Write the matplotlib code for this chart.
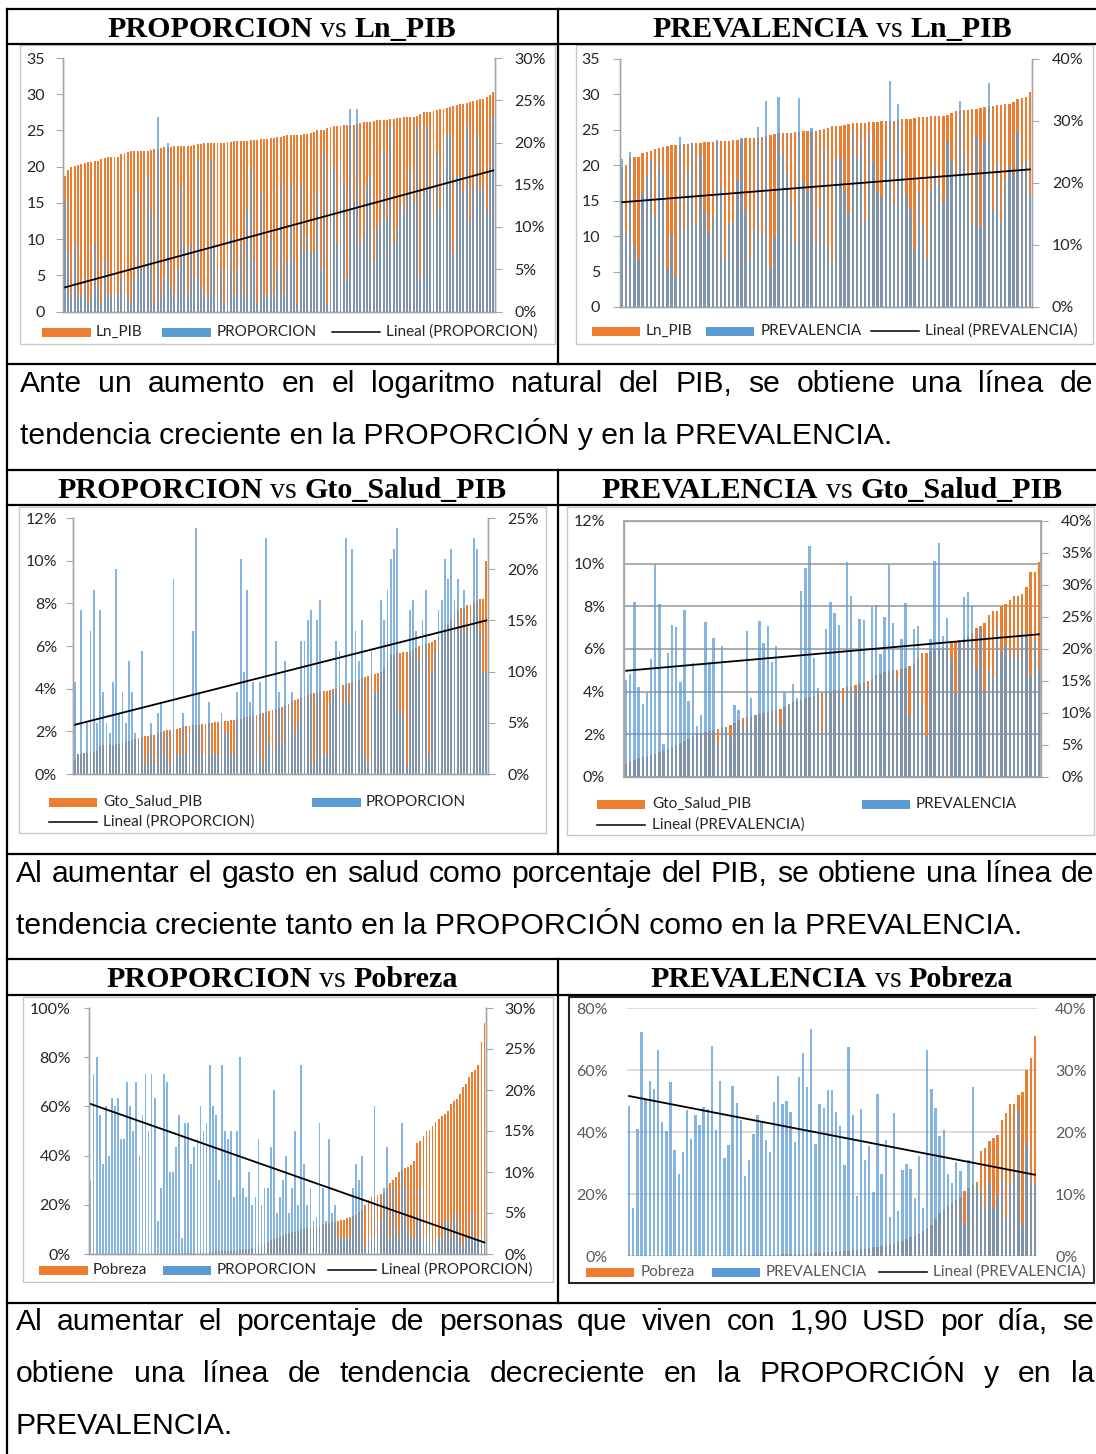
import numpy as np
import matplotlib
matplotlib.use('Agg')
import matplotlib.pyplot as plt
from matplotlib.patches import Rectangle

# ---------------- datos ----------------
# PROPORCION vs Ln_PIB  (Ln_PIB eje izq., PROPORCION en % eje der.)
ln_pib_a = [18.7, 19.6, 20.0, 20.1, 20.2, 20.4, 20.5, 20.6, 20.7, 20.8,
            20.8, 21.0, 21.2, 21.3, 21.3, 21.3, 21.4, 21.7, 21.9, 22.0,
            22.1, 22.1, 22.1, 22.2, 22.2, 22.2, 22.3, 22.4, 22.5, 22.6,
            22.7, 22.7, 22.7, 22.8, 22.8, 22.8, 22.8, 22.9, 22.9, 23.0,
            23.1, 23.1, 23.2, 23.2, 23.2, 23.2, 23.3, 23.3, 23.3, 23.4,
            23.4, 23.5, 23.6, 23.6, 23.6, 23.6, 23.7, 23.7, 23.7, 23.8,
            23.8, 23.8, 23.9, 24.0, 24.1, 24.1, 24.2, 24.3, 24.3, 24.4,
            24.4, 24.4, 24.5, 24.5, 24.6, 24.8, 25.0, 25.0, 25.1, 25.3,
            25.5, 25.6, 25.6, 25.6, 25.7, 25.7, 25.8, 25.8, 25.9, 26.0,
            26.1, 26.1, 26.2, 26.3, 26.4, 26.4, 26.5, 26.5, 26.6, 26.6,
            26.7, 26.7, 26.8, 26.8, 26.9, 26.9, 27.0, 27.3, 27.5, 27.6,
            27.6, 27.7, 27.8, 27.9, 28.0, 28.1, 28.2, 28.4, 28.5, 28.6,
            28.7, 28.8, 28.9, 29.0, 29.2, 29.3, 29.4, 29.6, 29.9, 30.3]
proporcion_a = [13.1, 7, 2, 8, 2, 2, 4, 1, 2, 8,
                3, 1, 6, 2, 2, 2, 2, 4, 2, 2,
                1, 4, 14, 5, 5, 16, 12, 1, 23, 2,
                4, 20, 3, 2, 5, 15, 8, 2, 8, 4,
                18, 3, 2, 2, 18, 8, 2, 5, 1, 5,
                9, 2, 5, 8, 2, 12, 17, 6, 1, 14,
                2, 2, 9, 2, 5, 15, 2, 6, 15, 6,
                1, 15, 7, 9, 7, 7, 14, 5, 19, 1,
                17, 17, 8, 18, 15, 4, 24, 13, 24, 8,
                9, 15, 16, 6, 10, 11, 19, 11, 22, 8,
                10, 13, 12, 14, 17, 13, 22, 4, 14, 22,
                15, 11, 19, 12, 17, 21, 21, 7, 16, 16,
                14, 22, 11, 15, 21, 14, 15, 12, 17, 23]
tend_a = [2.85, 16.7]

# PREVALENCIA vs Ln_PIB
ln_pib_b = [19.8, 20.1, 21.0, 21.2, 21.2, 21.7, 21.9, 22.0, 22.3, 22.5,
            22.6, 22.7, 22.8, 22.8, 22.8, 23.0, 23.0, 23.1, 23.1, 23.2,
            23.3, 23.3, 23.3, 23.4, 23.4, 23.4, 23.4, 23.5, 23.6, 23.7,
            23.8, 23.8, 23.8, 23.9, 24.0, 24.2, 24.3, 24.4, 24.5, 24.6,
            24.6, 24.6, 24.7, 24.7, 24.8, 24.8, 24.8, 24.9, 25.0, 25.1,
            25.2, 25.5, 25.6, 25.6, 25.7, 25.8, 25.9, 25.9, 26.0, 26.0,
            26.1, 26.1, 26.1, 26.2, 26.2, 26.3, 26.3, 26.4, 26.5, 26.5,
            26.6, 26.7, 26.8, 26.8, 26.8, 26.9, 26.9, 26.9, 27.0, 27.1,
            27.4, 27.6, 27.7, 27.8, 27.8, 27.9, 28.0, 28.1, 28.2, 28.3,
            28.4, 28.5, 28.5, 28.6, 28.6, 28.9, 29.3, 29.5, 29.7, 30.3]
prevalencia_b = [23.8, 11.9, 25.0, 9.9, 7.8, 18.3, 20.9, 23.5, 14.9, 23.2,
                 21.6, 6.3, 11.7, 4.9, 27.5, 12.4, 21.7, 26.5, 13.2, 24.6,
                 15.5, 11.9, 14.7, 27.0, 19.4, 7.6, 13.3, 13.8, 20.5, 27.3,
                 15.6, 7.9, 12.5, 29.1, 11.4, 33.3, 6.4, 11.4, 33.8, 24.6,
                 22.0, 17.0, 10.1, 33.7, 20.1, 18.7, 28.9, 10.3, 16.1, 25.5,
                 9.8, 7.3, 23.7, 24.1, 18.7, 15.2, 28.3, 24.2, 26.8, 14.0,
                 28.1, 23.2, 18.5, 17.8, 23.8, 36.5, 16.8, 32.7, 25.1, 18.0,
                 15.8, 9.4, 18.4, 13.1, 7.6, 18.8, 22.8, 19.8, 16.7, 26.8,
                 23.5, 21.6, 33.3, 24.7, 21.1, 13.3, 27.4, 12.9, 26.7, 36.1,
                 15.6, 23.3, 13.9, 20.3, 22.7, 21.6, 28.3, 22.8, 23.6, 18.1]
tend_b = [16.9, 22.2]

# PROPORCION vs Gto_Salud_PIB (ambas en %)
gto_salud_c = [0.65, 0.95, 0.95, 1.0, 1.0, 1.05, 1.05, 1.1, 1.3, 1.35,
               1.35, 1.35, 1.35, 1.4, 1.4, 1.45, 1.5, 1.55, 1.6, 1.65,
               1.7, 1.75, 1.8, 1.8, 1.85, 1.85, 1.9, 1.95, 2.0, 2.05,
               2.05, 2.1, 2.1, 2.15, 2.2, 2.25, 2.25, 2.3, 2.3, 2.3,
               2.35, 2.35, 2.4, 2.4, 2.45, 2.45, 2.5, 2.5, 2.5, 2.55,
               2.55, 2.6, 2.6, 2.65, 2.65, 2.7, 2.7, 2.75, 2.8, 2.85,
               2.9, 2.95, 3.0, 3.05, 3.1, 3.15, 3.2, 3.3, 3.4, 3.45,
               3.5, 3.55, 3.65, 3.7, 3.75, 3.8, 3.8, 3.85, 3.9, 3.9,
               3.95, 4.0, 4.05, 4.1, 4.15, 4.2, 4.25, 4.3, 4.35, 4.4,
               4.5, 4.55, 4.6, 4.65, 4.7, 4.75, 4.8, 5.0, 5.3, 5.6,
               5.6, 5.65, 5.65, 5.7, 5.7, 5.75, 5.8, 5.9, 6.0, 6.05,
               6.1, 6.15, 6.2, 6.3, 6.4, 6.6, 6.8, 7.0, 7.2, 7.5,
               7.7, 7.8, 7.8, 7.9, 7.9, 8.0, 8.1, 8.2, 8.2, 10.0]
proporcion_c = [9, 2, 16, 2, 5, 14, 18, 5, 16, 8,
                5, 4, 9, 20, 6, 8, 5, 11, 8, 4,
                3, 12, 1, 2, 5, 1, 6, 7, 2, 4,
                1, 19, 2, 2, 6, 2, 4, 14, 24, 8,
                2, 2, 7, 2, 2, 2, 6, 4, 4, 2,
                2, 8, 21, 10, 18, 7, 9, 2, 9, 1,
                23, 3, 2, 13, 8, 3, 11, 5, 8, 4,
                5, 13, 13, 15, 16, 1, 15, 17, 2, 2,
                7, 8, 13, 12, 7, 23, 7, 22, 14, 11,
                15, 2, 1, 12, 8, 8, 17, 15, 18, 21,
                22, 24, 6, 6, 1, 16, 17, 14, 11, 15,
                18, 2, 10, 12, 16, 17, 21, 19, 22, 17,
                19, 14, 18, 14, 15, 23, 22, 14, 10, 10]
tend_c = [4.8, 15.0]

# PREVALENCIA vs Gto_Salud_PIB
gto_salud_d = [0.6, 0.7, 0.8, 0.9, 0.95, 1.0, 1.05, 1.1, 1.15, 1.2,
               1.3, 1.4, 1.5, 1.6, 1.7, 1.8, 1.9, 2.0, 2.05, 2.1,
               2.15, 2.2, 2.25, 2.3, 2.35, 2.45, 2.55, 2.65, 2.75, 2.8,
               2.85, 2.9, 2.95, 3.0, 3.05, 3.1, 3.15, 3.2, 3.3, 3.4,
               3.5, 3.55, 3.6, 3.7, 3.75, 3.8, 3.9, 3.95, 4.0, 4.05,
               4.1, 4.1, 4.15, 4.2, 4.2, 4.3, 4.35, 4.4, 4.5, 4.6,
               4.8, 4.85, 4.9, 4.95, 5.0, 5.0, 5.05, 5.1, 5.2, 5.3,
               5.6, 5.8, 5.8, 5.9, 6.0, 6.05, 6.1, 6.2, 6.3, 6.35,
               6.4, 6.5, 6.6, 6.7, 7.0, 7.1, 7.2, 7.6, 7.8, 7.8,
               8.0, 8.1, 8.3, 8.5, 8.5, 8.6, 8.9, 9.6, 9.6, 10.1]
prevalencia_d = [15.2, 16.1, 27.4, 14.0, 11.4, 13.2, 18.5, 33.2, 27.0, 5.2,
                 19.3, 23.7, 23.5, 14.8, 26.1, 11.8, 17.8, 8.0, 9.7, 24.2,
                 17.9, 21.7, 5.0, 20.5, 7.7, 6.3, 11.3, 10.4, 7.9, 22.8,
                 12.4, 9.7, 24.4, 20.9, 23.6, 17.9, 20.5, 7.9, 13.2, 11.1,
                 14.6, 12.3, 29.1, 32.7, 36.1, 18.6, 13.9, 7.1, 23.1, 27.3,
                 25.6, 23.7, 12.1, 33.6, 28.3, 13.4, 24.7, 24.5, 13.8, 26.6,
                 26.9, 19.2, 25.0, 33.1, 24.1, 15.4, 21.5, 27.2, 9.5, 23.1,
                 23.6, 11.6, 6.4, 21.5, 33.8, 36.5, 22.0, 24.9, 18.4, 13.1,
                 21.0, 28.1, 28.9, 26.7, 17.1, 23.1, 13.4, 16.8, 15.6, 23.5,
                 19.6, 20.6, 18.8, 19.8, 18.4, 22.7, 22.1, 15.8, 21.4, 16.8]
tend_d = [16.6, 22.3]

# PROPORCION vs Pobreza
pobreza_e = [0, 0, 0, 0, 0, 0, 0, 0, 0, 0,
             0, 0, 0, 0, 0, 0, 0, 0, 0, 0,
             0, 0.1, 0.1, 0.1, 0.2, 0.2, 0.2, 0.3, 0.3, 0.4,
             0.4, 0.5, 0.5, 0.6, 0.6, 0.7, 0.8, 0.8, 0.9, 1.0,
             1.0, 1.1, 1.1, 1.2, 1.2, 1.3, 1.3, 1.4, 1.4, 1.5,
             1.5, 2.0, 2.0, 2.5, 3.0, 3.5, 4.0, 4.5, 5.0, 5.5,
             6.0, 6.5, 7.0, 7.5, 8.0, 8.5, 9.0, 9.0, 9.5, 10.0,
             10.0, 10.5, 10.5, 11.0, 11.0, 11.5, 12.0, 12.0, 12.5, 13.0,
             13.0, 13.5, 14.0, 14.0, 14.5, 15.0, 15.5, 16.0, 17.0, 18.0,
             20.0, 22.0, 23.0, 23.0, 24.0, 24.5, 25.0, 27.0, 29.0, 30.0,
             31.5, 33.5, 34.0, 35.0, 35.5, 36.0, 38.0, 45.0, 46.0, 48.0,
             50.0, 50.5, 52.0, 53.5, 55.0, 56.0, 57.0, 58.0, 61.0, 62.0,
             63.0, 65.0, 68.0, 69.0, 72.0, 74.0, 75.0, 77.0, 86.0, 94.0]
proporcion_e = [9, 22, 24, 17, 11, 18, 12, 19, 18, 19,
                14, 14, 21, 18, 15, 21, 12, 17, 22, 15,
                22, 19, 4, 8, 22, 21, 10, 10, 13, 17,
                2, 16, 16, 11, 13, 14, 18, 15, 16, 23,
                18, 17, 9, 23, 15, 14, 15, 7, 15, 24,
                8, 7, 10, 6, 7, 14, 6, 8, 8, 13,
                20, 5, 7, 9, 12, 5, 8, 15, 6, 23,
                11, 6, 8, 4, 4.5, 16, 8, 4, 14, 5,
                6, 2, 2, 2, 2, 2, 8, 11, 9, 12,
                1, 2, 2, 18, 2, 4, 8, 13, 2, 8,
                3, 2, 16, 8, 3, 2, 2, 4, 8, 2,
                2, 4, 1, 2, 2, 2, 4, 4, 2, 5,
                4, 2, 1, 2, 2, 5, 2, 2, 2, 2]
tend_e = [18.3, 1.4]

# PREVALENCIA vs Pobreza
pobreza_f = [0, 0, 0, 0, 0, 0, 0, 0, 0, 0,
             0, 0, 0, 0, 0, 0, 0, 0, 0, 0,
             0, 0, 0, 0.1, 0.1, 0.1, 0.1, 0.2, 0.2, 0.2,
             0.2, 0.3, 0.3, 0.3, 0.4, 0.4, 0.4, 0.5, 0.5, 0.5,
             0.6, 0.6, 0.7, 0.8, 0.9, 1.0, 1.0, 1.1, 1.2, 1.3,
             1.4, 1.5, 1.6, 1.7, 1.8, 2.0, 2.2, 2.4, 2.6, 2.8,
             3.0, 3.1, 3.3, 3.6, 4.0, 4.5, 5.0, 5.5, 6.0, 6.5,
             7.0, 8.0, 9.0, 10.0, 12.0, 14.0, 15.0, 16.0, 17.0, 18.0,
             19.0, 21.0, 22.0, 23.0, 24.0, 34.0, 35.0, 37.0, 38.0, 39.0,
             44.0, 46.0, 49.0, 49.0, 52.0, 53.0, 60.0, 64.0, 71.0]
prevalencia_f = [24.2, 7.7, 20.5, 36.2, 25.4, 28.3, 26.9, 33.2, 21.6, 20.1,
                 28.1, 17.1, 13.3, 16.8, 23.5, 18.9, 22.7, 21.1, 24.1, 23.7,
                 33.8, 20.3, 28.3, 15.8, 17.9, 27.4, 24.6, 22.0, 12.9, 15.5,
                 19.7, 22.7, 21.7, 18.7, 16.8, 24.9, 29.0, 24.5, 25.0, 23.2,
                 18.4, 28.8, 32.7, 27.2, 36.6, 18.1, 24.5, 23.8, 26.7, 26.7,
                 23.2, 20.9, 14.7, 33.7, 22.8, 9.7, 23.7, 15.5, 17.8, 10.3,
                 26.1, 13.2, 18.7, 6.3, 23.0, 7.3, 13.9, 14.8, 14.1, 9.3,
                 16.1, 7.7, 33.2, 26.9, 23.8, 19.4, 20.4, 13.2, 11.8, 15.2,
                 13.7, 5.1, 15.5, 27.3, 11.4, 10.1, 8.0, 12.0, 7.7, 9.8,
                 12.4, 6.2, 11.4, 13.1, 23.5, 5.0, 18.3, 12.5, 11.7]
tend_f = [25.8, 13.1]

texto_1 = ["Ante un aumento en el logaritmo natural del PIB, se obtiene una línea de",
           "tendencia creciente en la PROPORCIÓN y en la PREVALENCIA."]
texto_2 = ["Al aumentar el gasto en salud como porcentaje del PIB, se obtiene una línea de",
           "tendencia creciente tanto en la PROPORCIÓN como en la PREVALENCIA."]
texto_3 = ["Al aumentar el porcentaje de personas que viven con 1,90 USD por día, se",
           "obtiene una línea de tendencia decreciente en la PROPORCIÓN y en la",
           "PREVALENCIA."]

NARANJA = '#ED7D31'
AZUL = '#5B9BD5'
W, H = 1096, 1454

plt.rcParams['font.family'] = 'Lato'

fig = plt.figure(figsize=(W / 100, H / 100), dpi=100)
bg = fig.add_axes([0, 0, 1, 1])
bg.set_xlim(0, W)
bg.set_ylim(H, 0)
bg.axis('off')
renderer = fig.canvas.get_renderer()


def caja(l, t, r, b):
    return [l / W, 1 - b / H, (r - l) / W, (b - t) / H]


def ancho(txt, size, family, weight='normal'):
    t = bg.text(0, 0, txt, fontsize=size, family=family, weight=weight)
    w = t.get_window_extent(renderer).width
    t.remove()
    return w


def titulo(a, b, xc, y, size=21.6):
    fam = 'Liberation Serif'
    partes = [(a, 'bold'), ('vs', 'normal'), (b, 'bold')]
    esp = size * 100 / 72 * 0.25
    anchos = [ancho(p, size, fam, w) for p, w in partes]
    x = xc - (sum(anchos) + 2 * esp) / 2
    for (p, w), an in zip(partes, anchos):
        bg.text(x, y, p, fontsize=size, family=fam, weight=w, va='baseline', ha='left')
        x += an + esp


def parrafo(lineas, x0, x1, y0, paso=52, size=21.7):
    fam = 'Liberation Sans'
    for k, linea in enumerate(lineas):
        y = y0 + k * paso
        if k == len(lineas) - 1:
            bg.text(x0, y, linea, fontsize=size, family=fam, va='baseline', ha='left')
            continue
        palabras = linea.split()
        anchos = [ancho(p, size, fam) for p in palabras]
        hueco = (x1 - x0 - sum(anchos)) / (len(palabras) - 1)
        x = x0
        for p, an in zip(palabras, anchos):
            bg.text(x, y, p, fontsize=size, family=fam, va='baseline', ha='left')
            x += an + hueco


def grafico(marco, area, naranja, azul, tend, izq, der, estilo, leyenda,
            color_marco='#C8C8C8', lw_marco=1.0, color_txt='#262626'):
    l, t, r, b = marco
    bg.add_patch(Rectangle((l, t), r - l, b - t, fill=False, ec=color_marco, lw=lw_marco))
    ax = fig.add_axes(caja(*area))
    ax2 = ax.twinx()
    n = len(naranja)
    x = np.arange(n)
    ax.bar(x, naranja, width=0.58, color=NARANJA, lw=0)
    ax2.bar(x, azul, width=0.58, color=AZUL, alpha=0.75, lw=0)
    ax2.plot([0, n - 1], tend, color='black', lw=1.3)
    ax.set_xlim(-0.5, n - 0.5)
    ax.set_xticks([])

    ymax, paso, fmt, pad_i, tick_i = izq
    ax.set_ylim(0, ymax)
    ax.set_yticks(np.arange(0, ymax + paso / 2, paso))
    ax.set_yticklabels([fmt.format(v) for v in np.arange(0, ymax + paso / 2, paso)])
    ymax2, paso2, pad_d, tick_d = der
    ax2.set_ylim(0, ymax2)
    ax2.set_yticks(np.arange(0, ymax2 + paso2 / 2, paso2))
    ax2.set_yticklabels(['{:.0f}%'.format(v) for v in np.arange(0, ymax2 + paso2 / 2, paso2)])

    gris = '#A6A6A6'
    ax.tick_params(axis='y', direction='out', length=tick_i, color=gris, pad=pad_i,
                   labelsize=11.5, labelcolor=color_txt)
    ax2.tick_params(axis='y', direction='out', length=tick_d, color=gris, pad=pad_d,
                    labelsize=11.5, labelcolor=color_txt)
    for a in (ax, ax2):
        for s in a.spines.values():
            s.set_color(gris)
            s.set_linewidth(1.0)
        if estilo == 'simple':
            a.spines['top'].set_visible(False)
        if estilo == 'claro':
            for s in a.spines.values():
                s.set_visible(False)
    if estilo == 'rejilla':
        ax.yaxis.grid(True, color=gris, lw=1.3)
        for s in ax.spines.values():
            s.set_linewidth(1.3)
    if estilo == 'claro':
        ax.yaxis.grid(True, color='#D9D9D9', lw=1.3)
    ax.set_axisbelow(True)

    for tipo, x0, x1, xt, y, txt in leyenda:
        if tipo == 'linea':
            bg.plot([x0, x1], [y, y], color='black', lw=1.1)
        else:
            col = NARANJA if tipo == 'naranja' else AZUL
            bg.add_patch(Rectangle((x0, y - 4.5), x1 - x0, 9, color=col, lw=0))
        bg.text(xt, y, txt, fontsize=11.0, color=color_txt, va='center', ha='left')


# ---------------- tabla ----------------
for y in [9, 44, 364, 470, 505, 854, 959, 995, 1303]:
    bg.plot([7, W], [y, y], color='black', lw=1.6)
bg.plot([7, 7], [9, H], color='black', lw=1.6)
for y0, y1 in [(9, 364), (470, 854), (959, 1303)]:
    bg.plot([558, 558], [y0, y1], color='black', lw=1.6)

titulo('PROPORCION', 'Ln_PIB', 282, 37)
titulo('PREVALENCIA', 'Ln_PIB', 832, 37)
titulo('PROPORCION', 'Gto_Salud_PIB', 282, 498)
titulo('PREVALENCIA', 'Gto_Salud_PIB', 832, 498)
titulo('PROPORCION', 'Pobreza', 282, 987)
titulo('PREVALENCIA', 'Pobreza', 832, 987)

parrafo(texto_1, 20, 1093, 392)
parrafo(texto_2, 16, 1094, 882)
parrafo(texto_3, 16, 1094, 1330)

# ---------------- graficos ----------------
grafico((20, 45, 555, 344), (63, 58, 495, 311.5), ln_pib_a, proporcion_a, tend_a,
        (35, 5, '{:.0f}', 8, 5), (30, 5, 8.7, 5), 'simple',
        [('naranja', 42, 91, 96, 332, 'Ln_PIB'),
         ('azul', 162, 211, 217, 332, 'PROPORCION'),
         ('linea', 332, 380, 386, 332, 'Lineal (PROPORCION)')])

grafico((576, 45, 1093, 344), (620, 59, 1032, 307), ln_pib_b, prevalencia_b, tend_b,
        (35, 5, '{:.0f}', 9.4, 5), (40, 10, 9.4, 5), 'simple',
        [('naranja', 592, 640, 646, 331, 'Ln_PIB'),
         ('azul', 706, 754, 761, 331, 'PREVALENCIA'),
         ('linea', 871, 919, 925, 331, 'Lineal (PREVALENCIA)')])

grafico((19, 507, 546, 833), (73, 518, 488, 774), gto_salud_c, proporcion_c, tend_c,
        (12, 2, '{:.0f}%', 6.5, 5), (25, 5, 8.7, 5), 'simple',
        [('naranja', 49, 97, 103, 802, 'Gto_Salud_PIB'),
         ('azul', 312, 361, 366, 802, 'PROPORCION'),
         ('linea', 49, 97, 103, 822, 'Lineal (PROPORCION)')])

grafico((567, 507, 1094, 835), (624, 521, 1041, 777), gto_salud_d, prevalencia_d, tend_d,
        (12, 2, '{:.0f}%', 13.7, 0), (40, 5, 9.4, 5), 'rejilla',
        [('naranja', 597, 645, 652, 804, 'Gto_Salud_PIB'),
         ('azul', 862, 910, 916, 804, 'PREVALENCIA'),
         ('linea', 597, 645, 652, 825, 'Lineal (PREVALENCIA)')])

grafico((23, 997, 553, 1282), (89, 1008, 486, 1254), pobreza_e, proporcion_e, tend_e,
        (100, 20, '{:.0f}%', 9.4, 3.6), (30, 5, 8, 5), 'simple',
        [('naranja', 39, 88, 93, 1270, 'Pobreza'),
         ('azul', 163, 211, 217, 1270, 'PROPORCION'),
         ('linea', 328, 376, 381, 1270, 'Lineal (PROPORCION)')])

grafico((569, 997, 1094, 1283), (627, 1008, 1037, 1256), pobreza_f, prevalencia_f, tend_f,
        (80, 20, '{:.0f}%', 13.7, 0), (40, 10, 13, 0), 'claro',
        [('naranja', 586, 634, 641, 1272, 'Pobreza'),
         ('azul', 712, 760, 766, 1272, 'PREVALENCIA'),
         ('linea', 879, 927, 933, 1272, 'Lineal (PREVALENCIA)')],
        color_marco='#262626', lw_marco=1.5, color_txt='#595959')

fig.savefig('out.png', dpi=100)
